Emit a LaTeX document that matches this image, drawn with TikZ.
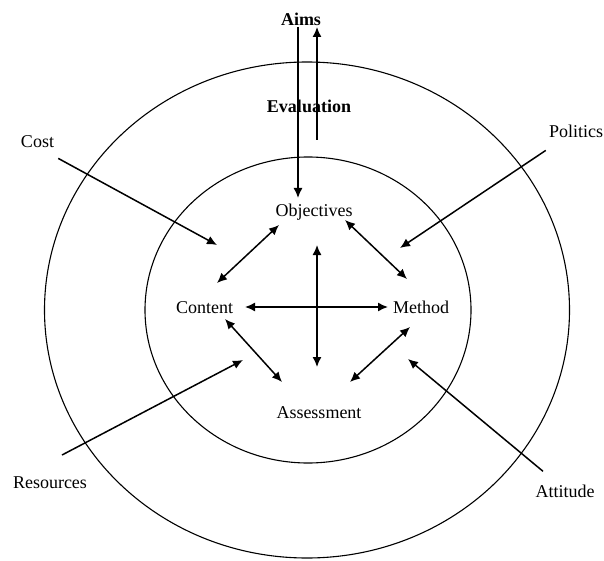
\documentclass[tikz,border=0pt]{standalone}
\usepackage{fontspec}
\setmainfont{Liberation Serif}
\usetikzlibrary{arrows.meta}

\begin{document}
\begin{tikzpicture}[x=1pt,y=-1pt]
  \tikzset{>={Latex[length=10pt,width=9pt]}}
  \tikzset{word/.style={inner sep=2pt,anchor=base,font=\fontsize{18}{21}\selectfont},
    heading/.style={word,font=\fontsize{18}{21}\selectfont\bfseries},
    link/.style={line width=1.5pt}}
  \useasboundingbox (0,0) rectangle (604,561);

  % the two rings
  \draw [line width=1.1pt] (307,310) ellipse [x radius=262.5pt, y radius=248pt];
  \draw [line width=1.1pt] (308,310) ellipse [x radius=163pt, y radius=153pt];

  \node [heading] (Aims) at (301,26) {Aims};
  \node [heading] (Evaluation) at (309,113) {Evaluation};
  \node [word] (Objectives) at (314,217) {Objectives};
  \node [word] (Content) at (204.5,313) {Content};
  \node [word] (Method) at (421,313) {Method};
  \node [word] (Assessment) at (319,418) {Assessment};
  \node [word] (Cost) at (37.5,148) {Cost};
  \node [word] (Politics) at (576,138) {Politics};
  \node [word] (Resources) at (50,488) {Resources};
  \node [word] (Attitude) at (565,497) {Attitude};

  \coordinate (CostEnd) at (217,245);
  \coordinate (PoliticsEnd) at (400,248);
  \coordinate (ResourcesEnd) at (243,360);
  \coordinate (AttitudeEnd) at (408,359);

  % aims and evaluation
  \draw [link,->] ([shift={(-3,1)}]Aims.base) -- ([shift={(-16,-19)}]Objectives.base);
  \draw [link,->] ([shift={(8,27)}]Evaluation.base) -- ([shift={(16,1)}]Aims.base);

  % outside influences
  \draw [link,->] ([shift={(2,8)}]Cost.south east) -- (CostEnd);
  \draw [link,->] ([shift={(-1,10)}]Politics.south west) -- (PoliticsEnd);
  \draw [link,->] ([shift={(12,-19)}]Resources.north) -- (ResourcesEnd);
  \draw [link,->] ([shift={(-22,-11)}]Attitude.north) -- (AttitudeEnd);

  % inner links
  \draw [link,<->] ([shift={(-35,8)}]Objectives.base) -- ([shift={(12.5,-30)}]Content.base);
  \draw [link,<->] ([shift={(31,3)}]Objectives.base) -- ([shift={(-14,-34)}]Method.base);
  \draw [link,<->] ([shift={(20.5,6)}]Content.base) -- ([shift={(-37,-36)}]Assessment.base);
  \draw [link,<->] ([shift={(-11,14)}]Method.base) -- ([shift={(31,-36)}]Assessment.base);
  \draw [link,<->] ([shift={(3,28)}]Objectives.base) -- ([shift={(-2,-51)}]Assessment.base);
  \draw [link,<->] ([shift={(40.5,-6)}]Content.base) -- ([shift={(-33,-6)}]Method.base);
\end{tikzpicture}
\end{document}
